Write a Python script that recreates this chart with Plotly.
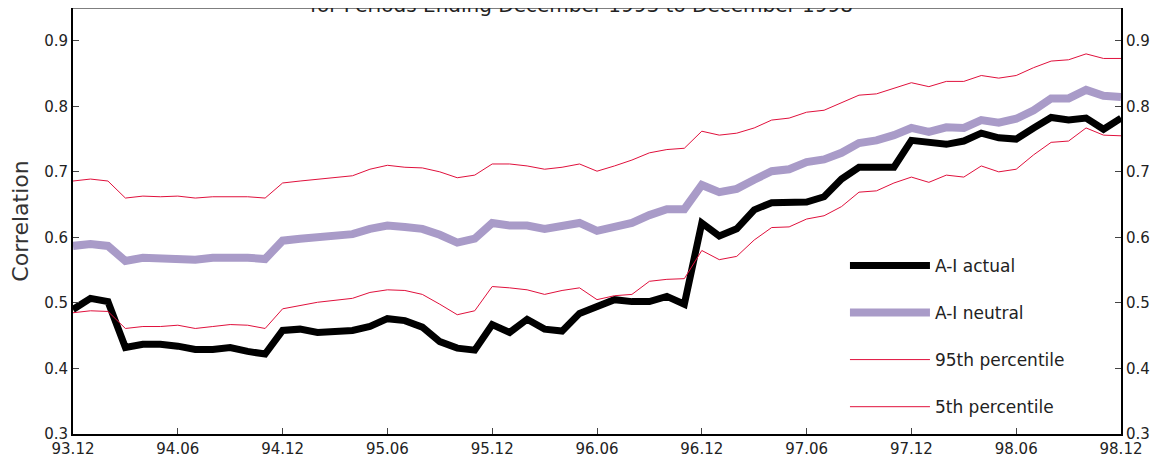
import plotly.graph_objects as go

tick_labels = ["93.12","94.06","94.12","95.06","95.12","96.06","96.12","97.06","97.12","98.06","98.12"]
months = list(range(61))

actual = [0.490,0.507,0.502,0.432,0.437,0.437,0.434,0.429,0.429,0.432,0.426,0.422,
          0.458,0.460,0.455,0.457,0.458,0.464,0.476,0.473,0.463,0.441,0.431,0.428,
          0.467,0.455,0.475,0.460,0.457,0.484,0.495,0.505,0.502,0.502,0.510,0.498,
          0.622,0.602,0.613,0.642,0.653,0.653,0.654,0.662,0.689,0.707,0.707,0.707,
          0.748,0.744,0.742,0.747,0.759,0.752,0.750,0.767,0.783,0.779,0.782,0.765,0.782]
neutral = [0.587,0.590,0.587,0.564,0.569,0.567,0.567,0.566,0.569,0.570,0.569,0.567,
           0.595,0.598,0.601,0.602,0.605,0.613,0.618,0.616,0.613,0.604,0.592,0.598,
           0.622,0.618,0.618,0.613,0.616,0.622,0.610,0.616,0.622,0.634,0.643,0.643,
           0.680,0.669,0.674,0.688,0.701,0.704,0.715,0.719,0.729,0.744,0.748,0.756,
           0.767,0.761,0.768,0.767,0.779,0.775,0.781,0.794,0.812,0.812,0.825,0.816,0.814]
p95 = [0.686,0.689,0.686,0.660,0.663,0.662,0.663,0.660,0.662,0.662,0.662,0.660,
       0.683,0.686,0.689,0.691,0.694,0.704,0.710,0.707,0.706,0.700,0.691,0.695,
       0.712,0.712,0.709,0.704,0.707,0.712,0.701,0.709,0.718,0.729,0.734,0.736,
       0.762,0.756,0.759,0.767,0.779,0.782,0.791,0.794,0.805,0.817,0.819,0.827,
       0.836,0.830,0.838,0.838,0.847,0.843,0.847,0.859,0.869,0.871,0.880,0.873,0.873]
p5 = [0.485,0.488,0.487,0.461,0.464,0.464,0.466,0.461,0.464,0.467,0.466,0.461,
      0.491,0.496,0.501,0.504,0.507,0.516,0.520,0.519,0.513,0.498,0.482,0.488,
      0.525,0.523,0.520,0.513,0.519,0.523,0.505,0.511,0.513,0.533,0.536,0.537,
      0.580,0.566,0.571,0.596,0.615,0.616,0.628,0.633,0.647,0.669,0.671,0.683,
      0.692,0.684,0.695,0.692,0.709,0.700,0.704,0.726,0.745,0.747,0.767,0.756,0.755]

FONT = "DejaVu Sans"
fig = go.Figure()
fig.add_trace(go.Scatter(x=months, y=actual, mode="lines", name="A-I actual",
                         line=dict(color="black", width=7), legendgroup="a"))
fig.add_trace(go.Scatter(x=months, y=neutral, mode="lines", name="A-I neutral",
                         line=dict(color="#a99bc8", width=8), legendgroup="b"))
fig.add_trace(go.Scatter(x=months, y=p95, mode="lines", name="95th percentile",
                         line=dict(color="#e0103c", width=1), legendgroup="c"))
fig.add_trace(go.Scatter(x=months, y=p5, mode="lines", name="5th percentile",
                         line=dict(color="#e0103c", width=1), legendgroup="d"))
fig.add_trace(go.Scatter(x=[0], y=[None], yaxis="y2", showlegend=False, hoverinfo="skip"))

yticks = [0.3,0.4,0.5,0.6,0.7,0.8,0.9]
ax_common = dict(range=[0.3, 0.95], tickvals=yticks, ticktext=[f"{v:.1f}" for v in yticks],
                 ticks="inside", ticklen=6, showgrid=False, zeroline=False, automargin=False,
                 showline=True, linecolor="black", linewidth=2,
                 tickfont=dict(family=FONT, size=15, color="#222"))
fig.update_layout(
    width=1165, height=467, plot_bgcolor="white", paper_bgcolor="white",
    margin=dict(l=65, r=52, t=0, b=41),
    xaxis=dict(range=[0, 60], tickvals=list(range(0, 61, 6)), ticktext=tick_labels,
               ticks="inside", ticklen=6, showgrid=False, zeroline=False, automargin=False,
               showline=True, linecolor="black", linewidth=2, mirror=False,
               tickfont=dict(family=FONT, size=15, color="#222")),
    yaxis=dict(**ax_common, title=dict(text="Correlation", standoff=12,
               font=dict(family=FONT, size=22, color="#333"))),
    yaxis2=dict(**ax_common, overlaying="y", side="right"),
    legend=dict(x=0.7366, y=0.437, xanchor="left", yanchor="top", bgcolor="rgba(0,0,0,0)",
                font=dict(family=FONT, size=17, color="#222"), itemwidth=80,
                tracegroupgap=22),
    shapes=[dict(type="line", xref="paper", yref="paper", x0=0, x1=1, y0=1, y1=1,
                 line=dict(color="#555", width=1.5))],
    annotations=[dict(text="for Periods Ending December 1993 to December 1998",
                      xref="paper", yref="paper", x=0.485, y=1, yanchor="bottom",
                      yshift=-11, showarrow=False,
                      font=dict(family=FONT, size=20, color="#222"))],
)
fig.write_html("out.html")
